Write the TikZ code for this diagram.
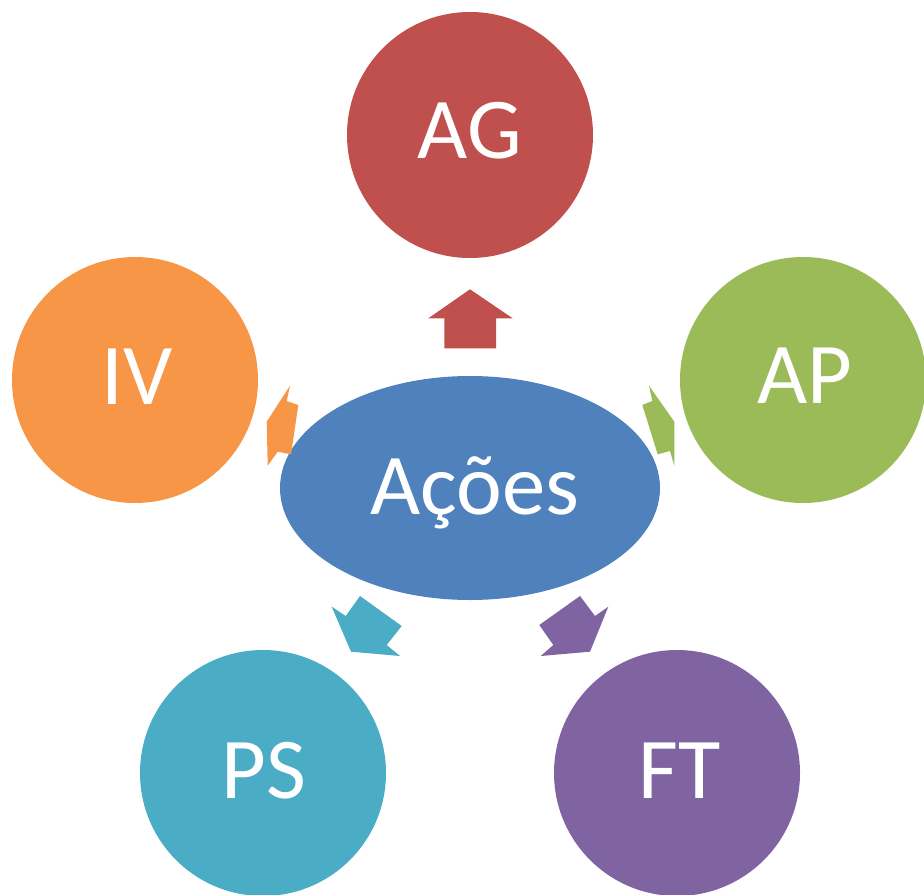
\documentclass[tikz,border=0pt]{standalone}
\usepackage{fontspec}
\setmainfont{Carlito}
\definecolor{cAG}{HTML}{C0504D}
\definecolor{cIV}{HTML}{F79646}
\definecolor{cAP}{HTML}{9BBB59}
\definecolor{cPS}{HTML}{4BACC6}
\definecolor{cFT}{HTML}{8064A2}
\definecolor{cAC}{HTML}{4F81BD}
\begin{document}
\begin{tikzpicture}[x=0.75pt,y=-0.75pt,
  circ/.style={circle,minimum size=184.5pt,inner sep=0pt},
  lbl/.style={text=white,anchor=base,inner sep=0pt,font=\fontsize{65}{65}\selectfont},
  arr/.style={draw=none}]
\useasboundingbox (0,0) rectangle (924,895);
% circles
\node[circ,fill=cAG] (AG) at (470,135) {};
\node[circ,fill=cIV] (IV) at (135,380) {};
\node[circ,fill=cAP] (AP) at (803,380) {};
\node[circ,fill=cPS] (PS) at (263,773) {};
\node[circ,fill=cFT] (FT) at (677,773) {};
\fill[cAC] (470,488) ellipse [x radius=190, y radius=112];
\node[inner sep=0pt] (AC) at (470,488) {};
% labels
\node[lbl] (tAG) at (470,159) {AG};
\node[lbl] (tIV) at (137,404) {IV};
\node[lbl] (tAP) at (805,403) {AP};
\node[lbl] (tPS) at (264,798) {PS};
\node[lbl] (tFT) at (680,798) {FT};
\node[lbl] (tAC) at (475,514) {Ações};
% arrows
\fill[cAG] (470,289.3) -- (512.7,318.3) -- (496,318.3) -- (496,348.3) -- (444.3,348.3) -- (444.3,318.3) -- (428.3,318.3) -- cycle;
\fill[cIV] (290,385.7) -- (286.7,401) -- (298.3,405) -- (291,454.3) -- (277.7,451.7) -- (267.7,465.7) -- (266.7,421.7) -- cycle;
\fill[cAP] (649,385.7) -- (652.3,401) -- (642.3,405) -- (657.7,454.3) -- (670,451) -- (674.3,465.7) -- (674.3,421.7) -- cycle;
\fill[cPS] (331.7,606.7) -- (345.7,616) -- (360,596) -- (401.7,626) -- (386.7,645) -- (400,656) -- (351,651.7) -- cycle;
\fill[cFT] (608.3,606.7) -- (595,616) -- (580,596) -- (539.3,625) -- (553.3,645) -- (540.7,656) -- (590,651.7) -- cycle;
\end{tikzpicture}
\end{document}
